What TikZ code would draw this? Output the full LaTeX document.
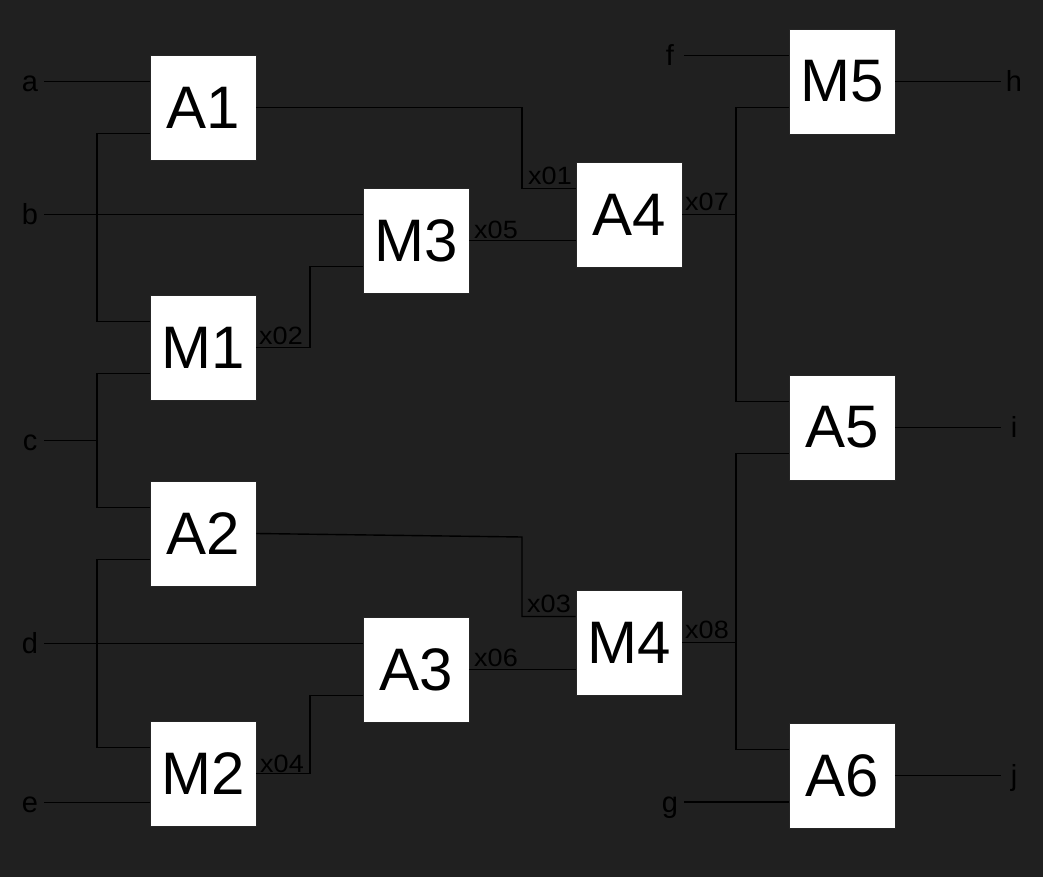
\documentclass[tikz,border=0pt]{standalone}
\usepackage{fontspec}
\setmainfont{Liberation Sans}
\newfontfamily\xlabfont[FakeStretch=1.08]{Liberation Sans}
\definecolor{bg}{RGB}{32,32,32}
\begin{document}
\begin{tikzpicture}[x=1pt,y=-1pt,
  gate/.style={fill=white, draw=black!85, line width=0.8pt, minimum width=106pt, minimum height=105pt, inner sep=0pt, font=\fontsize{60}{60}\selectfont, text=black},
  pin/.style={inner sep=0pt, text height=20pt, text depth=0pt, font=\fontsize{29}{29}\selectfont, text=black},
  sig/.style={inner sep=0pt, font=\xlabfont\fontsize{25}{25}\selectfont, text=black},
  wire/.style={draw=black, line width=1.4pt}]
\fill[bg] (0,0) rectangle (1043,877);
\useasboundingbox (0,0) rectangle (1043,877);

% gates
\node[gate] (A1) at (203,107.5) {A1};
\node[gate] (M1) at (203,347.5) {M1};
\node[gate] (A2) at (203,533.5) {A2};
\node[gate] (M2) at (203,773.5) {M2};
\node[gate] (M3) at (416,240.5) {M3};
\node[gate] (A3) at (416,669.5) {A3};
\node[gate] (A4) at (629,214.5) {A4};
\node[gate] (M4) at (629,642.5) {M4};
\node[gate] (M5) at (842,81.5) {M5};
\node[gate] (A5) at (842,427.5) {A5};
\node[gate] (A6) at (842,775.5) {A6};

\foreach \g in {A1,M1,A2,M2,M3,A3,A4,M4,M5,A5,A6}{
  \coordinate (\g-i1) at ([yshift=26pt]\g.west);
  \coordinate (\g-i2) at ([yshift=-26pt]\g.west);
}

% bus columns and free ends
\coordinate (busA) at (97,0);
\coordinate (busB) at (310,0);
\coordinate (busC) at (522,0);
\coordinate (busD) at (736,0);
\coordinate (inL) at (44,0);
\coordinate (inR) at (684,0);
\coordinate (outR) at (1001,0);
\coordinate (a2bend) at (522,537);

% pin labels
\node[pin] (la) at (30,81.5) {a};
\node[pin] (lb) at (30,214.5) {b};
\node[pin] (lc) at (30,440.5) {c};
\node[pin] (ld) at (30,643.5) {d};
\node[pin] (le) at (30,802.5) {e};
\node[pin] (lf) at (670,55.5) {f};
\node[pin] (lg) at (670,802) {g};
\node[pin] (lh) at (1014,81.5) {h};
\node[pin] (li) at (1014,427.5) {i};
\node[pin] (lj) at (1014,775.5) {j};

% signal labels
\node[sig] (x01) at (550,175.5) {x01};
\node[sig] (x02) at (281,335.5) {x02};
\node[sig] (x03) at (549,603.5) {x03};
\node[sig] (x04) at (282,763.5) {x04};
\node[sig] (x05) at (496,229.5) {x05};
\node[sig] (x06) at (496,657.5) {x06};
\node[sig] (x07) at (707,201.5) {x07};
\node[sig] (x08) at (707,629.5) {x08};

% input wires
\draw[wire] (la -| inL) -- (la -| A1.west);
\draw[wire] (lb -| inL) -- (lb -| M3.west);
\draw[wire] (A1-i2) -- (A1-i2 -| busA) -- (M1-i1 -| busA) -- (M1-i1);
\draw[wire] (lc -| inL) -- (lc -| busA);
\draw[wire] (M1-i2) -- (M1-i2 -| busA) -- (A2-i1 -| busA) -- (A2-i1);
\draw[wire] (A2-i2) -- (A2-i2 -| busA) -- (M2-i1 -| busA) -- (M2-i1);
\draw[wire] (ld -| inL) -- (ld -| A3.west);
\draw[wire] (le -| inL) -- (le -| M2.west);

% internal wires
\draw[wire] (M1.east) -- (M1.east -| busB) -- (M3-i2 -| busB) -- (M3-i2);
\draw[wire] (M2.east) -- (M2.east -| busB) -- (A3-i2 -| busB) -- (A3-i2);
\draw[wire] (A1.east) -- (A1.east -| busC) -- (A4-i1 -| busC) -- (A4-i1);
\draw[wire] (M3.east) -- (M3.east -| A4.west);
\draw[wire] (A2.east) -- (a2bend) -- (M4-i1 -| a2bend) -- (M4-i1);
\draw[wire] (A3.east) -- (A3.east -| M4.west);
\draw[wire] (A4.east) -- (A4.east -| busD);
\draw[wire] (M5-i2) -- (M5-i2 -| busD) -- (A5-i1 -| busD) -- (A5-i1);
\draw[wire] (M4.east) -- (M4.east -| busD);
\draw[wire] (A5-i2) -- (A5-i2 -| busD) -- (A6-i1 -| busD) -- (A6-i1);
\draw[wire] (lf -| inR) -- (lf -| M5.west);
\draw[wire] (lg -| inR) -- (lg -| A6.west);

% output wires
\draw[wire] (M5.east) -- (M5.east -| outR);
\draw[wire] (A5.east) -- (A5.east -| outR);
\draw[wire] (A6.east) -- (A6.east -| outR);
\end{tikzpicture}
\end{document}
